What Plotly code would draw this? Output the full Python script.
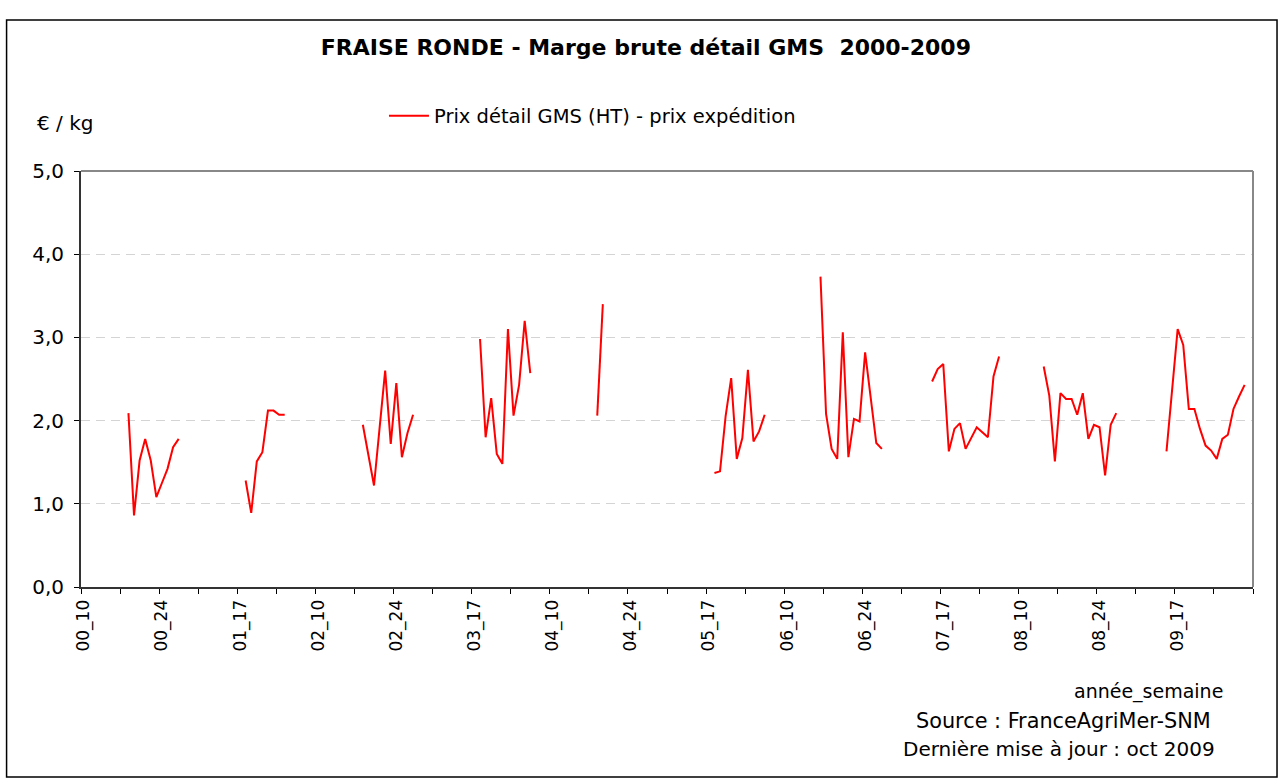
import plotly.graph_objects as go

# ---- data -------------------------------------------------------------
years = ["00", "01", "02", "03", "04", "05", "06", "07", "08", "09"]
weeks = list(range(10, 31))  # weeks 10..30 shown for each year

# first week with data and weekly values (€/kg) for each year
start_week = {
    "00": 18, "01": 18, "02": 18, "03": 18, "04": 18,
    "05": 18, "06": 16, "07": 15, "08": 14, "09": 15,
}
values_00 = [2.09, 0.86, 1.52, 1.78, 1.52, 1.08, 1.25, 1.42, 1.68, 1.78]
values_01 = [1.28, 0.89, 1.51, 1.62, 2.12, 2.12, 2.07, 2.07]
values_02 = [1.95, 1.58, 1.22, 1.91, 2.60, 1.72, 2.45, 1.56, 1.85, 2.07]
values_03 = [2.98, 1.80, 2.27, 1.60, 1.48, 3.10, 2.06, 2.43, 3.20, 2.57]
values_04 = [2.06, 3.40]
values_05 = [1.37, 1.39, 2.05, 2.51, 1.54, 1.79, 2.61, 1.75, 1.87, 2.07]
values_06 = [3.73, 2.08, 1.66, 1.54, 3.06, 1.56, 2.02, 1.99, 2.82, 2.27, 1.73, 1.66]
values_07 = [2.47, 2.62, 2.68, 1.63, 1.90, 1.97, 1.66, 1.79, 1.92, 1.86, 1.80, 2.53, 2.77]
values_08 = [2.65, 2.30, 1.51, 2.33, 2.26, 2.26, 2.07, 2.33, 1.78, 1.95, 1.92, 1.34, 1.95, 2.09]
values_09 = [1.63, 2.37, 3.10, 2.91, 2.14, 2.14, 1.90, 1.70, 1.64, 1.54, 1.78, 1.83, 2.14, 2.29, 2.43]
year_values = {
    "00": values_00, "01": values_01, "02": values_02, "03": values_03, "04": values_04,
    "05": values_05, "06": values_06, "07": values_07, "08": values_08, "09": values_09,
}

label_step = 14
tick_step = 7

# ---- build series ----------------------------------------------------
categories = []
series = []
for y in years:
    vals = year_values[y]
    s = start_week[y]
    for w in weeks:
        categories.append(f"{y}_{w:02d}")
        k = w - s
        series.append(vals[k] if 0 <= k < len(vals) else None)

xidx = list(range(len(categories)))

FONT = "DejaVu Sans, Liberation Sans, Arial, sans-serif"

fig = go.Figure()
fig.add_trace(go.Scatter(
    x=xidx, y=series, mode="lines",
    name="Prix détail GMS (HT) - prix expédition",
    line=dict(color="#ff0000", width=2),
    connectgaps=False,
))

fig.update_layout(
    width=1284, height=783,
    margin=dict(l=81, r=31, t=171, b=196),
    paper_bgcolor="white", plot_bgcolor="white",
    separators=", ",
    font=dict(family=FONT, size=19, color="black"),
    title=dict(
        text="<b>FRAISE RONDE - Marge brute détail GMS  2000-2009</b>",
        x=0.503, xanchor="center", y=0.94, yanchor="middle",
        font=dict(family=FONT, size=22, color="black"),
    ),
    showlegend=True,
    legend=dict(
        orientation="h", x=0.2585, xanchor="left", y=1.132, yanchor="middle",
        font=dict(family=FONT, size=19.5), bgcolor="rgba(0,0,0,0)",
        itemwidth=40,
    ),
)

fig.update_xaxes(
    range=[-0.5, len(categories) - 0.5],
    tickmode="array",
    tickvals=xidx[::label_step],
    ticktext=categories[::label_step],
    tickangle=-90,
    ticks="outside", ticklen=4, tickcolor="rgba(0,0,0,0)",
    minor=dict(
        tickmode="array",
        tickvals=[i - 0.5 for i in range(0, len(categories) + 1, tick_step)],
        ticks="outside", ticklen=5, tickcolor="black", tickwidth=1,
        showgrid=False,
    ),
    showgrid=False, zeroline=False,
    showline=True, linecolor="#333333", linewidth=2,
    tickfont=dict(family=FONT, size=17),
)
fig.update_yaxes(
    range=[0, 5], dtick=1, tickformat=".1f",
    ticks="outside", ticklen=5, tickcolor="black",
    ticklabelstandoff=6,
    showgrid=True, gridcolor="#d4d4d4", griddash="9px,6px", gridwidth=1,
    zeroline=False,
    showline=True, linecolor="#333333", linewidth=2,
    tickfont=dict(family=FONT, size=20),
)

# top and right plot borders (gray)
fig.add_shape(type="line", xref="paper", yref="paper", x0=0, x1=1, y0=1, y1=1,
              line=dict(color="#888888", width=2))
fig.add_shape(type="line", xref="paper", yref="paper", x0=1, x1=1, y0=0, y1=1,
              line=dict(color="#888888", width=2))
# outer chart frame
fig.add_shape(type="rect", xref="paper", yref="paper",
              x0=-0.0635, x1=1.0205, y0=-0.457, y1=1.363,
              line=dict(color="black", width=1.5))

fig.add_annotation(text="€ / kg", xref="paper", yref="paper", x=-0.0137, y=1.115,
                   xanchor="center", yanchor="middle", showarrow=False,
                   font=dict(family=FONT, size=20))
fig.add_annotation(text="année_semaine", xref="paper", yref="paper", x=0.976, y=-0.2524,
                   xanchor="right", yanchor="middle", showarrow=False,
                   font=dict(family=FONT, size=19))
fig.add_annotation(text="Source : FranceAgriMer-SNM", xref="paper", yref="paper", x=0.966, y=-0.322,
                   xanchor="right", yanchor="middle", showarrow=False,
                   font=dict(family=FONT, size=20.8))
fig.add_annotation(text="Dernière mise à jour : oct 2009", xref="paper", yref="paper", x=0.9693, y=-0.389,
                   xanchor="right", yanchor="middle", showarrow=False,
                   font=dict(family=FONT, size=20))

fig.write_html("out.html", post_script="document.body.style.margin='0px';",
               config={"displayModeBar": False})
